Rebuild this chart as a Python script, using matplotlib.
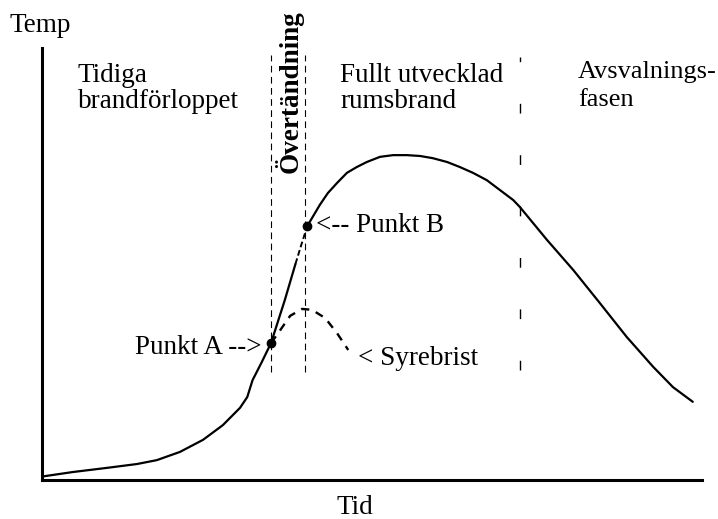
import matplotlib
matplotlib.use("Agg")
import matplotlib.pyplot as plt

plt.rcParams['font.family'] = ['Liberation Serif', 'DejaVu Serif']

# main fire curve (time, temp), schematic units 0..100
tid = [0, 4.7, 9.8, 14.4, 17.4, 20.9, 24.4, 27.4, 30.0, 31.1, 31.9, 33.3, 34.7, 36.8, 38.4]
temp = [0.8, 1.85, 2.8, 3.7, 4.6, 6.5, 9.3, 12.7, 16.7, 19.2, 23.1, 27.3, 31.7, 41.7, 50.0]
# short dashed bit up to punkt B
tid_ab = [38.4, 39.3, 40.2]
temp_ab = [50.0, 54.5, 58.8]
tid2 = [40.2, 42.1, 43.3, 44.7, 46.2, 47.7, 49.2, 51.2, 53.2, 55.3, 57.3, 59.2,
        61.4, 63.3, 65.3, 67.4, 69.4, 71.4, 72.4, 76.5, 80.5, 84.5, 88.6, 92.6, 95.6, 98.6]
temp2 = [58.8, 63.7, 66.4, 68.75, 71.1, 72.45, 73.6, 74.8, 75.2, 75.2, 75.0, 74.5,
         73.6, 72.45, 71.1, 69.4, 67.1, 64.8, 63.2, 55.6, 48.6, 41.0, 33.1, 26.2, 21.5, 18.1]

# syrebrist branch
tid_s = [34.7, 36.1, 37.6, 39.4, 40.9, 42.9, 44.7, 46.4]
temp_s = [31.7, 34.7, 38.0, 39.6, 39.4, 37.5, 34.0, 30.1]

punkt_a = (34.7, 31.7)
punkt_b = (40.2, 58.8)

fas_gr = [34.7, 39.8]   # overtandning
fas_3 = 72.4            # avsvalning

fig = plt.figure(figsize=(7.18, 5.19), dpi=100)
ax = fig.add_axes([42/718, 1-480/519, 660/718, 432/519])
ax.set_xlim(0, 100)
ax.set_ylim(0, 100)
ax.set_xticks([])
ax.set_yticks([])
for s in ['top', 'right']:
    ax.spines[s].set_visible(False)
for s in ['left', 'bottom']:
    ax.spines[s].set_linewidth(2.2)

ax.plot(tid, temp, color='black', lw=1.6, solid_capstyle='round', solid_joinstyle='round')
ax.plot(tid_ab, temp_ab, color='black', lw=1.4, dashes=(3, 1.5))
ax.plot(tid2, temp2, color='black', lw=1.6, solid_capstyle='round', solid_joinstyle='round')
ax.plot(tid_s, temp_s, color='black', lw=1.7, dashes=(3.5, 3))

ax.plot(*punkt_a, 'o', color='black', ms=6)
ax.plot(*punkt_b, 'o', color='black', ms=6)

for x in fas_gr:
    ax.plot([x, x], [25, 98.4], color='black', lw=0.8, dashes=(6, 4))
ax.plot([fas_3, fas_3], [25.5, 97.9], color='black', lw=1.0, dashes=(7, 30))

fs = 19.5
ax.text(-4.85, 105.3, 'Temp', fontsize=fs, va='center', ha='left', clip_on=False)
ax.text(47.4, -7.9, 'Tid', fontsize=fs, va='baseline', ha='center', clip_on=False)

ax.text(5.45, 92.2, 'Tidiga', fontsize=fs, va='baseline')
ax.text(5.45, 86.0, 'brandförloppet', fontsize=fs, va='baseline')
ax.text(45.2, 92.2, 'Fullt utvecklad', fontsize=fs, va='baseline')
ax.text(45.2, 86.0, 'rumsbrand', fontsize=fs, va='baseline')
ax.text(81.2, 93.1, 'Avsvalnings-', fontsize=19, va='baseline')
ax.text(81.2, 86.6, 'fasen', fontsize=19, va='baseline')

ax.text(37.4, 89.8, 'Övertändning', fontsize=19.5, fontweight='bold',
        rotation=90, ha='center', va='center')

ax.text(41.5, 58.8, '<-- Punkt B', fontsize=fs, va='center', ha='left')
ax.text(33.3, 30.6, 'Punkt A -->', fontsize=fs, va='center', ha='right')
ax.text(47.9, 28.2, '< Syrebrist', fontsize=fs, va='center', ha='left')

fig.savefig('out.png', dpi=100)
